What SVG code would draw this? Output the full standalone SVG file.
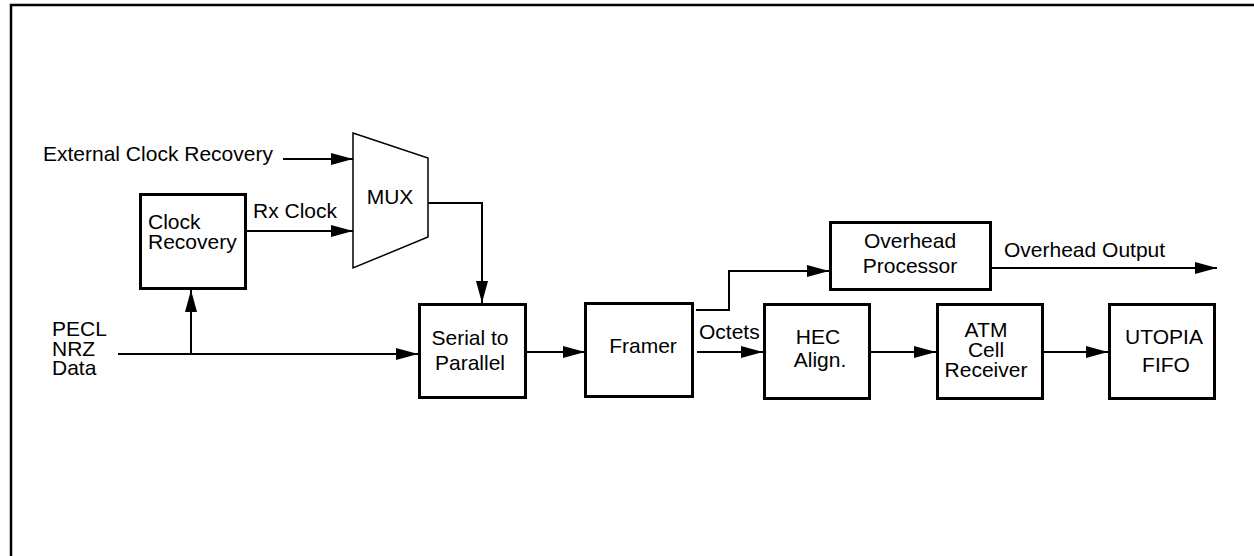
<svg xmlns="http://www.w3.org/2000/svg" width="1254" height="556" viewBox="0 0 1254 556">
<style>
  text { font-family: "Liberation Sans", Arial, sans-serif; font-size: 21px; fill: #000; }
  .box { fill: #fff; stroke: #000; stroke-width: 3; }
  .mux { fill: #fff; stroke: #000; stroke-width: 1.5; }
  .wire { fill: none; stroke: #000; stroke-width: 2; }
  .arr { marker-end: url(#ah); }
  .frame { fill: none; stroke: #000; stroke-width: 2.5; }
  .c { text-anchor: middle; }
</style>
<defs>
  <marker id="ah" markerUnits="userSpaceOnUse" markerWidth="22" markerHeight="12" refX="22" refY="6" orient="auto">
    <path d="M0,0 L22,6 L0,12 z" fill="#000"/>
  </marker>
</defs>
<rect width="1254" height="556" fill="#fff"/>
<path class="frame" d="M11,556 L11,5 L1254,5"/>

<g id="connectors">
  <path class="wire arr" d="M283,159 L353,159"/>
  <path class="wire arr" d="M247,231 L353,231"/>
  <path class="wire arr" d="M428,203 L482,203 L482,303"/>
  <path class="wire arr" d="M118,354 L418,354"/>
  <path class="wire arr" d="M191,354 L191,290"/>
  <path class="wire arr" d="M527,352 L585,352"/>
  <path class="wire arr" d="M696,310 L729,310 L729,271 L829,271"/>
  <path class="wire arr" d="M697,352 L763,352"/>
  <path class="wire arr" d="M871,352 L936,352"/>
  <path class="wire arr" d="M1042,352 L1108,352"/>
  <path class="wire arr" d="M992,268 L1217,268"/>
</g>

<g id="label-ext">
  <text x="43" y="161">External Clock Recovery</text>
</g>
<g id="label-pecl">
  <text x="52" y="336">PECL</text>
  <text x="52" y="355.5">NRZ</text>
  <text x="52" y="375">Data</text>
</g>
<g id="label-rx">
  <text x="253" y="218">Rx Clock</text>
</g>
<g id="label-octets">
  <text x="699" y="339">Octets</text>
</g>
<g id="label-ovout">
  <text x="1004" y="257">Overhead Output</text>
</g>

<g id="mux">
  <polygon class="mux" points="353,133 428,158 428,237 353,268"/>
  <text class="c" x="390" y="204">MUX</text>
</g>

<g id="clock-recovery">
  <rect class="box" x="140.5" y="194.5" width="105" height="94"/>
  <text x="148" y="229">Clock</text>
  <text x="148" y="249">Recovery</text>
</g>

<g id="serial-to-parallel">
  <rect class="box" x="419.5" y="304.5" width="106" height="93"/>
  <text class="c" x="470" y="345">Serial to</text>
  <text class="c" x="470" y="370">Parallel</text>
</g>

<g id="framer">
  <rect class="box" x="585.5" y="303.5" width="107" height="93"/>
  <text class="c" x="643" y="353">Framer</text>
</g>

<g id="overhead-processor">
  <rect class="box" x="830.5" y="222.5" width="160" height="67"/>
  <text class="c" x="910" y="248">Overhead</text>
  <text class="c" x="910" y="273">Processor</text>
</g>

<g id="hec-align">
  <rect class="box" x="764.5" y="304.5" width="105" height="94"/>
  <text class="c" x="818" y="344">HEC</text>
  <text class="c" x="820" y="367">Align.</text>
</g>

<g id="atm-cell-receiver">
  <rect class="box" x="937.5" y="304.5" width="105" height="94"/>
  <text class="c" x="986" y="337">ATM</text>
  <text class="c" x="986" y="357">Cell</text>
  <text class="c" x="986" y="377">Receiver</text>
</g>

<g id="utopia-fifo">
  <rect class="box" x="1109.5" y="304.5" width="105" height="94"/>
  <text class="c" x="1164" y="344">UTOPIA</text>
  <text class="c" x="1166" y="372">FIFO</text>
</g>
</svg>
